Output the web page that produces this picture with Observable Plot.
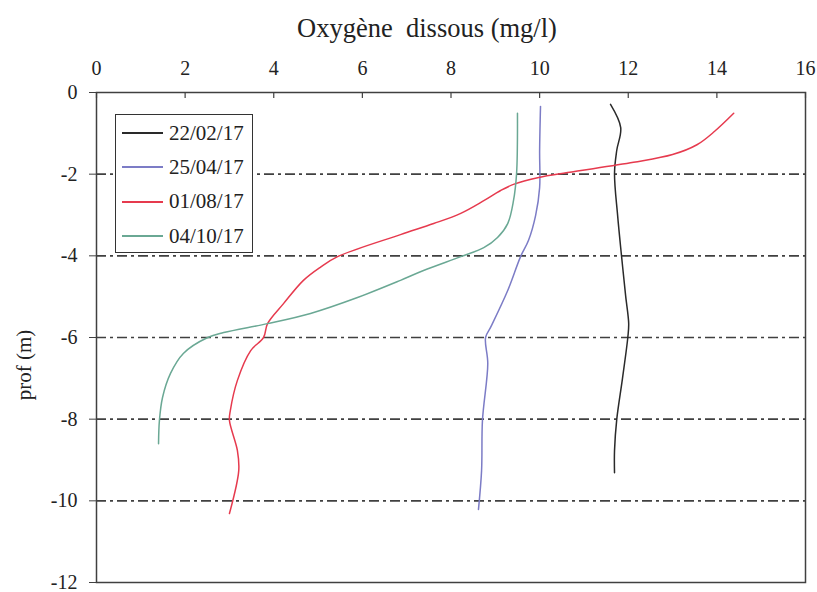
<!DOCTYPE html>
<html>
<head>
<meta charset="utf-8">
<script src="https://cdn.jsdelivr.net/npm/d3@7"></script>
<script src="https://cdn.jsdelivr.net/npm/@observablehq/plot@0.6"></script>
<style>
  body { margin: 0; background: #fff; }
  #wrap { position: relative; width: 817px; height: 592px; font-family: 'Liberation Serif', serif; color: #222; }
  #title { position: absolute; left: 0; width: 854px; top: 15px; text-align: center; font-size: 26.5px; line-height: 26px; white-space: pre; }
  #ylab { position: absolute; left: 24px; top: 365px; transform: translate(-50%, -50%) rotate(-90deg); font-size: 21px; white-space: nowrap; }
  #legend { position: absolute; left: 115px; top: 114px; width: 138px; height: 139px; box-sizing: border-box; border: 1.5px solid #333; background: #fff; padding-top: 1px; }
  .row { height: 34.3px; display: flex; align-items: center; font-size: 21px; }
  .sw { width: 41px; height: 0; border-top: 2px solid; margin-left: 6px; margin-right: 6px; }
  svg text { font-family: 'Liberation Serif', serif; }
</style>
</head>
<body>
<div id="wrap">
  <div id="plot"></div>
  <div id="title">Oxygène  dissous (mg/l)</div>
  <div id="ylab">prof (m)</div>
  <div id="legend"></div>
</div>
<script>
const dates = ["22/02/17", "25/04/17", "01/08/17", "04/10/17"];
const colors = ["#2a2a2a", "#7c7cc6", "#e63a4e", "#6aa894"];
const xTicks = [0, 2, 4, 6, 8, 10, 12, 14, 16];
const yTicks = [0, -2, -4, -6, -8, -10, -12];
const gridDepths = [-2, -4, -6, -8, -10];

const depth_220217 = [-0.29, -0.86, -1.42, -1.98, -3.01, -4.02, -4.97, -5.66, -6.0, -7.0, -8.01, -8.77, -9.31];
const o2_220217    = [11.60, 11.83, 11.74, 11.69, 11.76, 11.85, 11.94, 12.01, 11.99, 11.87, 11.74, 11.69, 11.69];

const depth_250417 = [-0.34, -1.42, -2.33, -3.01, -3.62, -4.02, -4.85, -5.76, -6.0, -6.64, -8.03, -9.26, -10.21];
const o2_250417    = [10.02, 10.0, 10.0, 9.91, 9.75, 9.57, 9.28, 8.89, 8.78, 8.83, 8.71, 8.69, 8.62];

const depth_010817 = [-0.51, -0.95, -1.28, -1.52, -1.71, -1.96, -2.08, -2.25, -2.40, -2.65, -2.96, -3.21, -3.48, -4.02, -4.28, -4.60, -5.17, -5.66, -6.0, -6.32, -7.05, -7.79, -8.03, -8.77, -9.26, -10.31];
const o2_010817    = [14.38, 13.95, 13.55, 13.0, 12.12, 10.63, 9.98, 9.41, 9.12, 8.74, 8.22, 7.61, 6.86, 5.44, 5.05, 4.67, 4.22, 3.86, 3.77, 3.48, 3.18, 3.02, 3.0, 3.18, 3.21, 3.0];

const depth_041017 = [-0.51, -1.98, -2.65, -3.21, -3.55, -3.80, -4.02, -4.36, -4.60, -5.02, -5.41, -5.66, -5.88, -6.0, -6.39, -6.88, -7.47, -8.03, -8.60];
const o2_041017    = [9.50, 9.48, 9.41, 9.28, 9.05, 8.74, 8.22, 7.38, 6.86, 5.89, 4.83, 3.86, 2.87, 2.51, 1.96, 1.67, 1.49, 1.42, 1.40];

const series = [
  [dates[0], depth_220217, o2_220217],
  [dates[1], depth_250417, o2_250417],
  [dates[2], depth_010817, o2_010817],
  [dates[3], depth_041017, o2_041017]
];
const data = series.flatMap(([date, ds, os]) => ds.map((d, i) => ({date, depth: d, o2: os[i]})));

const chart = Plot.plot({
  width: 817,
  height: 592,
  marginLeft: 96,
  marginRight: 12,
  marginTop: 92,
  marginBottom: 10,
  style: { fontFamily: "'Liberation Serif', serif", fontSize: "20px", color: "#222", background: "white" },
  x: { domain: [0, 16] },
  y: { domain: [-12, 0] },
  color: { domain: dates, range: colors },
  marks: [
    Plot.ruleY(gridDepths, { stroke: "#404040", strokeWidth: 1.6, strokeDasharray: "10,4,3,4" }),
    Plot.line(data, { x: "o2", y: "depth", z: "date", stroke: "date", curve: "catmull-rom", strokeWidth: 1.5 }),
    Plot.frame({ stroke: "#404040", strokeWidth: 1.5 }),
    Plot.tickX(xTicks, { x: d => d, insetBottom: 484, stroke: "#404040", strokeWidth: 1.2 }),
    Plot.axisX(xTicks, { anchor: "top", tickSize: 0, tickPadding: 18, label: null, tickFormat: d => String(d), fill: "#222" }),
    Plot.axisY(yTicks, { anchor: "left", tickSize: 7, tickPadding: 12, label: null, tickFormat: d => String(d), stroke: "#404040", fill: "#222" })
  ]
});
document.getElementById("plot").appendChild(chart);

const legend = document.getElementById("legend");
dates.forEach((d, i) => {
  const row = document.createElement("div");
  row.className = "row";
  const sw = document.createElement("span");
  sw.className = "sw";
  sw.style.borderTopColor = colors[i];
  const tx = document.createElement("span");
  tx.textContent = d;
  row.appendChild(sw);
  row.appendChild(tx);
  legend.appendChild(row);
});
</script>
</body>
</html>
